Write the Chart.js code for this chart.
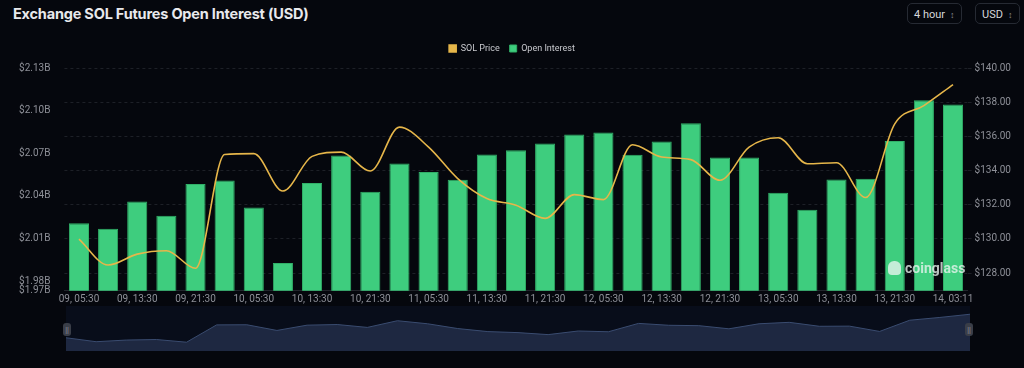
<!DOCTYPE html>
<html>
<head>
<meta charset="utf-8">
<script src="https://cdn.jsdelivr.net/npm/chart.js@4"></script>
<style>
body{margin:0;background:#05070d;width:1024px;height:368px;overflow:hidden;font-family:Roboto,"Noto Sans",sans-serif;}
#title{position:absolute;left:13px;top:5px;color:#e8e9ec;font:bold 14.5px Inter,Roboto,sans-serif;letter-spacing:-0.2px;}
.sel{position:absolute;top:3px;height:21px;border:1px solid #262a33;border-radius:5px;color:#d6d7db;font:11px Roboto,sans-serif;line-height:21px;padding-left:6px;box-sizing:border-box;}
.sel span{color:#8b8e96;font-size:9px;margin-left:5px;}
#main{position:absolute;left:0;top:0;}
#navwrap{position:absolute;left:66px;top:306px;width:904px;height:45px;background:#080d1a;}
.handle{position:absolute;top:323px;width:8px;height:13px;background:#3a3e48;border-radius:3px;color:#8d919a;font:7px sans-serif;text-align:center;line-height:13px;}
#wm{position:absolute;left:888px;top:260px;color:rgba(235,245,240,0.78);font:bold 14px Roboto,sans-serif;}
#wm i{display:inline-block;width:13px;height:14px;background:rgba(235,245,240,0.78);border-radius:6px 6px 4px 4px;vertical-align:-2px;margin-right:4px;}
</style>
</head>
<body>
<div id="title">Exchange SOL Futures Open Interest (USD)</div>
<div class="sel" style="left:907px;width:55px;">4 hour<span>&#8597;</span></div>
<div class="sel" style="left:975px;width:45px;">USD<span>&#8597;</span></div>
<canvas id="main" width="1024" height="306"></canvas>
<div id="wm"><i></i>coinglass</div>
<div id="navwrap"><canvas id="nav" width="904" height="45"></canvas></div>
<div class="handle" style="left:63px;">||</div>
<div class="handle" style="left:965px;">||</div>
<script>
let labels=[
"09, 05:30","09, 09:30","09, 13:30","09, 17:30","09, 21:30",
"10, 01:30","10, 05:30","10, 09:30","10, 13:30","10, 17:30","10, 21:30",
"11, 01:30","11, 05:30","11, 09:30","11, 13:30","11, 17:30","11, 21:30",
"12, 01:30","12, 05:30","12, 09:30","12, 13:30","12, 17:30","12, 21:30",
"13, 01:30","13, 05:30","13, 09:30","13, 13:30","13, 17:30","13, 21:30",
"14, 01:30","14, 03:11"
];

// open interest, billions USD
let openInterest=[
2.0207,2.0169,2.0361,2.0260,2.0483,2.0509,2.0319,1.9928,2.0490,2.0684,
2.0429,2.0628,2.0569,2.0513,2.0692,2.0722,2.0769,2.0832,2.0846,2.0689,
2.0783,2.0911,2.0670,2.0670,2.0422,2.0302,2.0516,2.0520,2.0787,2.1073,
2.1043
];

let solPrice=[
129.99,128.47,129.11,129.31,128.28,134.94,134.99,132.80,134.83,135.08,
133.97,136.54,135.37,133.53,132.36,131.97,131.20,132.59,132.30,135.51,
134.79,134.64,133.43,135.37,135.92,134.40,134.46,132.42,136.73,137.80,
139.03
];

let oiTicks=[1.9733,1.98,2.01,2.04,2.07,2.10,2.13];
let priceTicks=[128,130,132,134,136,138,140];

let tickFont={family:"'Liberation Sans Narrow',Roboto,sans-serif",size:10};
let tickColor="#8e9098";

// extra room under the legend
let legendGap={
id:"legendGap",
beforeInit(chart){
let fit=chart.legend.fit;
chart.legend.fit=function(){fit.call(this);this.height+=5;};
}
};

new Chart(document.getElementById("main"),{
type:"bar",
data:{
labels:labels,
datasets:[
{
type:"line",
label:"SOL Price",
data:solPrice,
yAxisID:"yPrice",
borderColor:"#e6b64a",
backgroundColor:"#e6b64a",
borderWidth:1.6,
pointRadius:0,
cubicInterpolationMode:"monotone",
order:0
},
{
label:"Open Interest",
data:openInterest.map(v=>v*1e9),
yAxisID:"yOI",
backgroundColor:"#3ecd7e",
borderColor:"#31b068",
borderWidth:1,
barPercentage:0.69,
categoryPercentage:1,
order:1
}
]
},
options:{
responsive:false,
animation:false,
layout:{padding:{top:34,left:0,right:0,bottom:0}},
plugins:{
legend:{
labels:{color:"#c9cacf",boxWidth:7,boxHeight:7,padding:10,font:{family:"Roboto,sans-serif",size:9}}
},
tooltip:{enabled:false}
},
scales:{
x:{
grid:{display:false,drawTicks:false},
border:{color:"#22252c"},
ticks:{
color:tickColor,font:tickFont,autoSkip:false,maxRotation:0,padding:3,
callback:function(v,i){return i%2==0?labels[i]:null;}
},
afterFit:function(s){s.height=15.3;}
},
yOI:{
position:"left",
min:1.9733e9,
max:2.13e9,
grid:{display:false},
border:{display:false},
afterBuildTicks:function(s){s.ticks=oiTicks.map(v=>({value:v*1e9}));},
ticks:{color:tickColor,font:tickFont,padding:6,
callback:function(v){return "$"+(v/1e9).toFixed(2)+"B";}},
afterFit:function(s){s.width=64.4;}
},
yPrice:{
position:"right",
min:126.97,
max:140,
grid:{color:"#1d2027",tickLength:4},
border:{display:false,dash:[3,3]},
afterBuildTicks:function(s){s.ticks=priceTicks.map(v=>({value:v}));},
ticks:{color:tickColor,font:tickFont,padding:3,
callback:function(v){return "$"+v.toFixed(2);}},
afterFit:function(s){s.width=56.4;}
}
}
},
plugins:[legendGap]
});

new Chart(document.getElementById("nav"),{
type:"line",
data:{
labels:labels,
datasets:[{
data:solPrice,
fill:"start",
borderColor:"#3a4c70",
backgroundColor:"#1e2841",
borderWidth:1,
pointRadius:0,
tension:0
}]
},
options:{
responsive:false,
animation:false,
layout:{padding:0},
plugins:{legend:{display:false},tooltip:{enabled:false}},
scales:{
x:{display:false,offset:false},
y:{display:false,min:124.9,max:142.2}
}
}
});
</script>
</body>
</html>
